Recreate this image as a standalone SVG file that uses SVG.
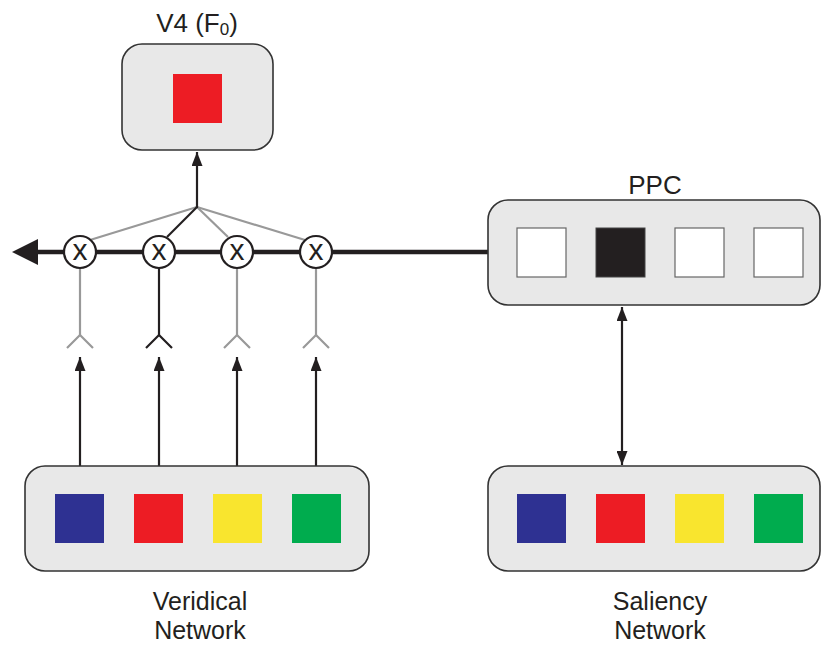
<svg xmlns="http://www.w3.org/2000/svg" width="823" height="645" viewBox="0 0 823 645">
<style>
.box{fill:#e8e8e8;stroke:#333;stroke-width:1.6}
.lbl{font-family:"Liberation Sans",Arial,sans-serif;font-size:26px;fill:#231f20;text-anchor:middle}
.net{font-size:25px}
.blue{fill:#2e3192}.red{fill:#ed1c24}.yellow{fill:#f9e52e}.green{fill:#00ac4e}
.wsq{fill:#fff;stroke:#666;stroke-width:1.2}
.ksq{fill:#231f20;stroke:#444;stroke-width:1}
.blk{stroke:#231f20;stroke-width:2.2;fill:none}
.gry{stroke:#999;stroke-width:2.2;fill:none}
.mul{fill:#fff;stroke:#231f20;stroke-width:2.2}
.x{font-family:"Liberation Sans",Arial,sans-serif;font-size:30px;fill:#231f20;text-anchor:middle}
</style>
<defs>
<marker id="ah2" viewBox="0 0 14 11" refX="14" refY="5.5" markerWidth="14" markerHeight="11" orient="auto-start-reverse" markerUnits="userSpaceOnUse">
<path d="M0,0 L14,5.5 L0,11 z" fill="#231f20"/>
</marker>
</defs>

<g id="connectors">
<line x1="488" y1="252" x2="36" y2="252" stroke="#231f20" stroke-width="4.5"/>
<polygon points="12,252 38,239 38,265" fill="#231f20"/>
<line class="gry" x1="90" y1="240" x2="197" y2="207"/>
<line class="gry" x1="228" y1="237" x2="197" y2="207"/>
<line class="gry" x1="305" y1="240" x2="197" y2="207"/>
<line class="blk" x1="167" y1="237" x2="197" y2="207"/>
<line class="blk" x1="197" y1="208" x2="197" y2="152" marker-end="url(#ah2)"/>
<polyline class="gry" points="80,268 80,335"/>
<polyline class="gry" points="67,348 80,335 93,348"/>
<polyline class="blk" points="159,268 159,335"/>
<polyline class="blk" points="146,348 159,335 172,348"/>
<polyline class="gry" points="237,268 237,335"/>
<polyline class="gry" points="224,348 237,335 250,348"/>
<polyline class="gry" points="316,268 316,335"/>
<polyline class="gry" points="303,348 316,335 329,348"/>
<line class="blk" x1="80" y1="466" x2="80" y2="357" marker-end="url(#ah2)"/>
<line class="blk" x1="159" y1="466" x2="159" y2="357" marker-end="url(#ah2)"/>
<line class="blk" x1="237" y1="466" x2="237" y2="357" marker-end="url(#ah2)"/>
<line class="blk" x1="316" y1="466" x2="316" y2="357" marker-end="url(#ah2)"/>
<line class="blk" x1="622" y1="307" x2="622" y2="465" marker-start="url(#ah2)" marker-end="url(#ah2)"/>
</g>

<g id="mult1"><circle class="mul" cx="80" cy="252" r="16"/><text class="x" x="80" y="260">x</text></g>
<g id="mult2"><circle class="mul" cx="159" cy="252" r="16"/><text class="x" x="159" y="260">x</text></g>
<g id="mult3"><circle class="mul" cx="237" cy="252" r="16"/><text class="x" x="237" y="260">x</text></g>
<g id="mult4"><circle class="mul" cx="316" cy="252" r="16"/><text class="x" x="316" y="260">x</text></g>

<g id="v4">
<rect class="box" x="122" y="44" width="151" height="106" rx="20"/>
<rect class="red" x="173" y="74" width="49" height="49"/>
<text class="lbl" x="197" y="32">V4 (F<tspan font-size="17" dy="3">0</tspan><tspan dy="-3">)</tspan></text>
</g>

<g id="ppc">
<rect class="box" x="488" y="200" width="332" height="105" rx="20"/>
<rect class="wsq" x="517" y="228" width="49" height="49"/>
<rect class="ksq" x="596" y="228" width="49" height="49"/>
<rect class="wsq" x="675" y="228" width="49" height="49"/>
<rect class="wsq" x="754" y="228" width="49" height="49"/>
<text class="lbl" x="655" y="194">PPC</text>
</g>

<g id="veridical">
<rect class="box" x="25" y="466" width="344" height="105" rx="20"/>
<rect class="blue" x="55" y="494" width="49" height="49"/>
<rect class="red" x="134" y="494" width="49" height="49"/>
<rect class="yellow" x="213" y="494" width="49" height="49"/>
<rect class="green" x="292" y="494" width="49" height="49"/>
<text class="lbl net" x="200" y="610">Veridical</text>
<text class="lbl net" x="200" y="639">Network</text>
</g>

<g id="saliency">
<rect class="box" x="488" y="466" width="332" height="105" rx="20"/>
<rect class="blue" x="517" y="494" width="49" height="49"/>
<rect class="red" x="596" y="494" width="49" height="49"/>
<rect class="yellow" x="675" y="494" width="49" height="49"/>
<rect class="green" x="754" y="494" width="49" height="49"/>
<text class="lbl net" x="660" y="610">Saliency</text>
<text class="lbl net" x="660" y="639">Network</text>
</g>
</svg>
